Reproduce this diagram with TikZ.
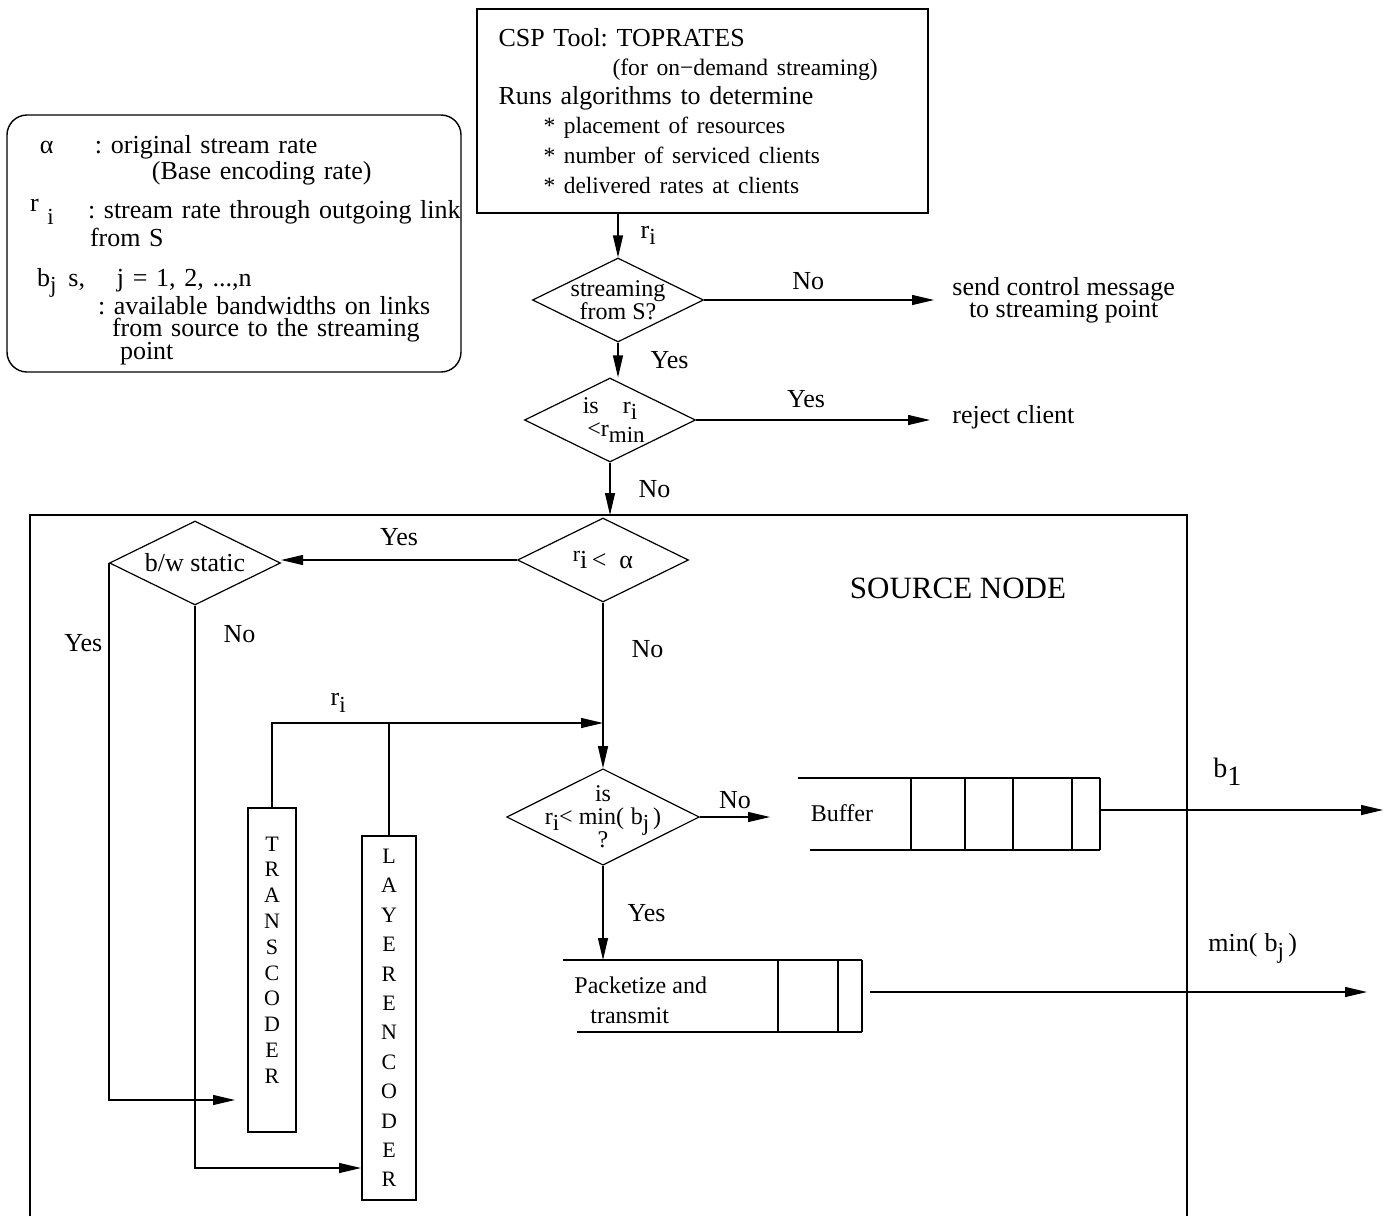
\documentclass[tikz,border=0pt]{standalone}
\usepackage{fontspec}
\setmainfont{Liberation Serif}
\usetikzlibrary{arrows.meta, positioning, shapes.geometric}
\newcommand{\lo}[1]{\raisebox{-0.55ex}{\fontsize{11.5}{11.5}\selectfont #1}}
\protected\def\tightlines{\lineskiplimit=-20pt\relax}
\frenchspacing

\begin{document}
\begin{tikzpicture}[
  x=0.5pt, y=-0.5pt,
  >={Triangle[length=11pt,width=5pt]},
  font=\fontsize{13}{14.5}\selectfont\tightlines,
  toolbox/.style={draw, line width=0.6pt, align=left, inner xsep=10.5pt,
                  text width=204pt, minimum width=225.5pt, minimum height=102pt},
  legend/.style={draw, line width=0.7pt, rounded corners=10pt, align=left, inner xsep=0pt,
                 text width=227pt, minimum width=227pt, minimum height=128.5pt},
  decision/.style={draw, line width=0.6pt, diamond, aspect=2, align=center, inner sep=-4pt,
                   minimum width=85.5pt, minimum height=42pt,
                   font=\fontsize{12}{11.5}\selectfont\tightlines},
  coder/.style={draw, line width=0.6pt, align=center, inner sep=0pt,
                font=\fontsize{11}{12.9}\selectfont},
  qtext/.style={align=left, inner sep=0pt, font=\fontsize{12}{15}\selectfont},
  lbl/.style={inner sep=2pt},
  line/.style={->, line width=0.6pt},
  plain/.style={line width=0.6pt}
]
\useasboundingbox (0,0) rectangle (1392,1216);

% tool and legend
\node[toolbox] (tool) at (702.5,111) {CSP Tool: TOPRATES\\
  {\fontsize{11.8}{14.5}\selectfont\hspace*{57pt}(for on−demand streaming)}\\
  Runs algorithms to determine\\
  {\fontsize{11.7}{14.5}\selectfont\hspace*{22.5pt}* placement of resources}\\[0.5pt]
  {\fontsize{11.7}{14.5}\selectfont\hspace*{22.5pt}* number of serviced clients}\\[0.5pt]
  {\fontsize{11.7}{14.5}\selectfont\hspace*{22.5pt}* delivered rates at clients}};

\node[legend, font=\fontsize{13}{12}\selectfont\tightlines] (legend) at (234,243.5) {%
  \rule{0pt}{15.5pt}\hspace*{16.5pt}\makebox[27.5pt][l]{α}: original stream rate\\[1pt]
  \hspace*{72.5pt}(Base encoding rate)\\[7.5pt]
  \hspace*{11.5pt}\makebox[29pt][l]{\raisebox{0.6ex}{r}\,\,\lo{i}}: stream rate through outgoing link\\[2pt]
  \hspace*{41.5pt}from S\\[8pt]
  \hspace*{15pt}b\lo{j}\hspace{6pt}s,\hspace{16pt}j = 1, 2, ...,n\\[2pt]
  \hspace*{45.5pt}: available bandwidths on links\\[-1pt]
  \hspace*{52.5pt}from source to the streaming\\[-0.5pt]
  \hspace*{56.5pt}point};

% admission decisions
\node[decision] (stream) at (618,300) {streaming\\from S?};
\node[decision] (minrate) at (610,420) {is\quad r\lo{i}\\\,\,\,<r\lo{min}};
\node[anchor=west, align=center, inner sep=0pt, font=\fontsize{13}{11}\selectfont\tightlines]
  (ctrl) at (952,300) {send control message\\to streaming point};
\node[anchor=west, inner sep=0pt] (reject) at (952,417) {reject client};

% source node
\coordinate (srcnw) at (30,515);
\draw[line width=1.2pt] (30,1216) -- (srcnw) -- (1187,515) -- (1187,1216);
\node[font=\fontsize{15.5}{16}\selectfont] (srcname) at (958,588) {SOURCE NODE};

\node[decision, font=\fontsize{13}{13}\selectfont] (alpha) at (603,560)
  {\raisebox{0.6ex}{\fontsize{11}{11}\selectfont r}i\,<\enspace α};
\node[decision, font=\fontsize{13}{13}\selectfont] (static) at (195,563) {b/w static};
\node[decision] (minbw) at (603,817) {is\\r\lo{i}< min(\;b\lo{j}\,)\\?};

\node[coder, minimum width=24pt, minimum height=162pt] (tcoder) at (272,970)
  {T\\R\\A\\N\\S\\C\\O\\D\\E\\R\\[-2.9pt]\mbox{}};
\node[coder, minimum width=27pt, minimum height=182pt, font=\fontsize{11}{14.7}\selectfont]
  (lcoder) at (389,1018) {L\\A\\Y\\E\\R\\E\\N\\C\\O\\D\\E\\R};

\node[qtext] (buf) at (842,813) {Buffer};
\node[qtext, anchor=west] (pkt) at (574,1000) {Packetize and\\\hspace*{8pt}transmit};

\coordinate (tin) at (235,1100);
\coordinate (lin) at (361,1168);
\coordinate (rjoin) at (603,723);
\coordinate (bufin) at (770,817);
\coordinate (pkttop) at (611,960);
\coordinate (bufout) at (1100,810);
\coordinate (b1end) at (1383,810);
\coordinate (pktout) at (870,992);
\coordinate (mbend) at (1367,992);

% queues
\draw[plain] (798,778) -- (1100,778) (810,850) -- (1100,850);
\foreach \qx in {911,965,1013,1072,1100}
  \draw[plain] (\qx,778) -- (\qx,850);
\draw[plain] (563,960) -- (862,960) (577,1032) -- (862,1032);
\foreach \qx in {778,838,862}
  \draw[plain] (\qx,960) -- (\qx,1032);

% connectors
\draw[line] (tool.south -| stream.north) -- node[right=9pt, lbl] {r\lo{i}} (stream.north);
\draw[line, shorten >=9pt] (stream.east) -- node[pos=0.42, above=3pt, lbl] {No} (stream.east -| ctrl.west);
\draw[line] (stream.south) -- node[right=14pt, lbl] {Yes} (stream.south |- minrate.north);
\draw[line, shorten >=11pt] (minrate.east) -- node[pos=0.43, above=4pt, lbl] {Yes} (minrate.east -| reject.west);
\draw[line] (minrate.south) -- node[right=12pt, lbl] {No} (minrate.south |- srcnw);
\draw[line] (alpha.west) -- node[pos=0.5, above=5pt, lbl] {Yes} (alpha.west -| static.east);
\draw[line] (static.west) -- node[pos=0.15, left=1pt, lbl] {Yes} (static.west |- tin) -- (tin);
\draw[line] (static.south) -- node[pos=0.05, right=12pt, lbl] {No} (static.south |- lin) -- (lin);
\draw[line] (alpha.south) -- node[pos=0.28, right=12pt, lbl] {No} (minbw.north);
\draw[line] (tcoder.north) |- node[pos=0.6, above=3pt, lbl] {r\lo{i}} (rjoin);
\draw[plain] (lcoder.north) -- (lcoder.north |- rjoin);
\draw[line] (minbw.east) -- node[above=2pt, lbl] {No} (bufin);
\draw[line] (minbw.south) -- node[right=10pt, lbl] {Yes} (minbw.south |- pkttop);
\draw[line] (bufout) -- node[pos=0.45, above=10pt, lbl, font=\fontsize{14}{14}\selectfont]
  {b\raisebox{-0.6ex}{1}} (b1end);
\draw[line] (pktout) -- node[pos=0.77, above=12pt, lbl, font=\fontsize{13}{13}\selectfont]
  {min(\;b\lo{j}\,)} (mbend);

\end{tikzpicture}
\end{document}
